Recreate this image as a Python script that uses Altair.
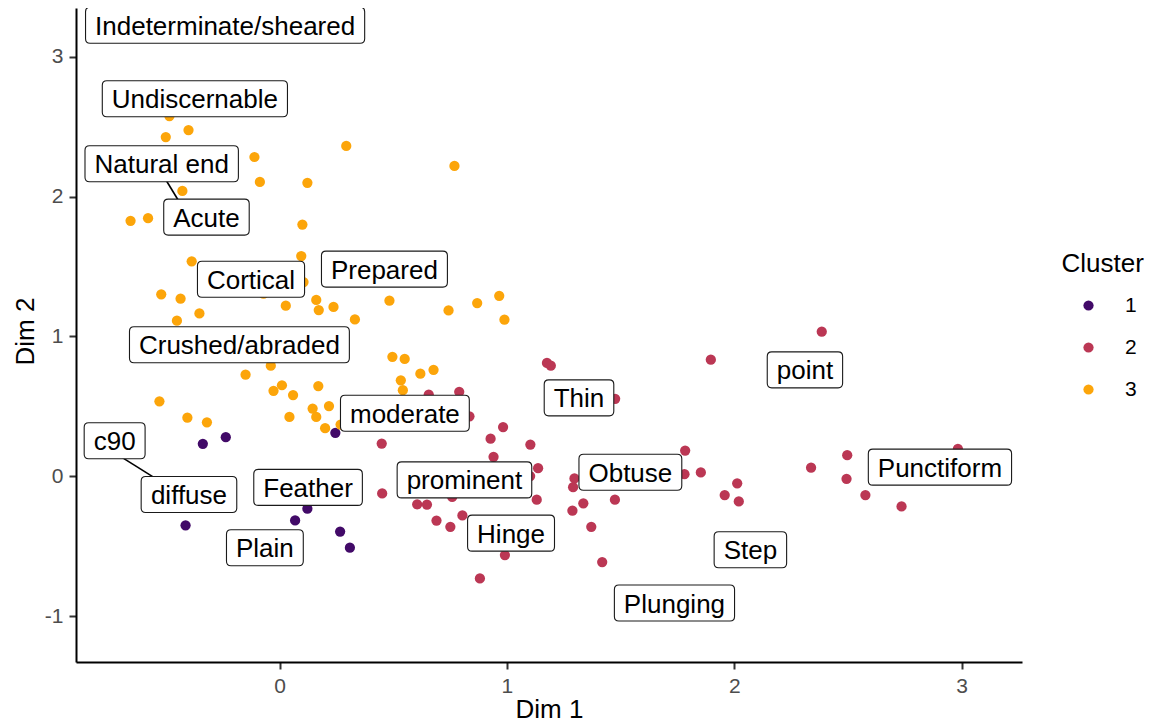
import altair as alt
import pandas as pd

# ---------------- data ----------------
c1_x = [-0.338, -0.237, 0.245, -0.414, 0.068, 0.122, 0.266, 0.309]
c1_y = [0.232, 0.279, 0.311, -0.351, -0.316, -0.232, -0.396, -0.511]

c2_x = [1.176, 1.193, 1.897, 1.476, 0.790, 0.656, 0.835, 0.983, 0.928, 1.103,
        0.449, 0.941, 1.137, 1.102, 0.451, 0.605, 0.648, 0.759, 1.131, 0.690,
        0.751, 0.804, 0.991, 0.881, 1.297, 1.291, 1.336, 1.288, 1.475, 1.371,
        1.419, 1.784, 1.781, 1.853, 2.013, 1.958, 2.020, 2.338, 2.497, 2.494,
        2.577, 2.736, 2.984, 2.385]
c2_y = [0.811, 0.791, 0.834, 0.554, 0.604, 0.584, 0.429, 0.352, 0.269, 0.227,
        0.234, 0.139, 0.058, 0.001, -0.123, -0.201, -0.203, -0.148, -0.168, -0.317,
        -0.362, -0.280, -0.564, -0.731, -0.016, -0.078, -0.194, -0.246, -0.168, -0.362,
        -0.614, 0.184, 0.015, 0.027, -0.051, -0.135, -0.180, 0.061, 0.151, -0.018,
        -0.135, -0.216, 0.196, 1.034]

c3_x = [-0.485, -0.401, -0.501, 0.293, -0.111, -0.087, 0.122, -0.428, -0.656, -0.579,
        0.100, 0.769, 0.095, 0.105, 0.027, 0.161, 0.172, 0.237, 0.331, 0.483,
        0.743, 0.869, 0.966, 0.989, -0.387, -0.521, -0.436, -0.452, -0.353, -0.071,
        -0.039, -0.150, -0.027, 0.010, 0.059, 0.170, -0.529, -0.406, -0.320, 0.043,
        0.145, 0.161, 0.217, 0.200, 0.268, 0.496, 0.550, 0.619, 0.677, 0.533, 0.542]
c3_y = [2.577, 2.477, 2.427, 2.363, 2.284, 2.106, 2.099, 2.041, 1.827, 1.846,
        1.801, 2.220, 1.575, 1.389, 1.220, 1.261, 1.189, 1.211, 1.122, 1.256,
        1.186, 1.239, 1.291, 1.120, 1.538, 1.302, 1.270, 1.113, 1.165, 1.306,
        0.791, 0.727, 0.611, 0.651, 0.581, 0.645, 0.536, 0.419, 0.386, 0.424,
        0.484, 0.424, 0.502, 0.344, 0.370, 0.854, 0.839, 0.734, 0.761, 0.686, 0.616]

label_text = ["Indeterminate/sheared", "Undiscernable", "Natural end", "Acute",
              "Cortical", "Prepared", "Crushed/abraded", "moderate", "Thin",
              "point", "Punctiform", "c90", "diffuse", "Feather", "Plain",
              "prominent", "Obtuse", "Hinge", "Step", "Plunging"]
label_x = [-0.240, -0.373, -0.519, -0.322, -0.126, 0.461, -0.177, 0.551, 1.317,
           2.311, 2.905, -0.726, -0.399, 0.125, -0.065, 0.813, 1.543, 1.018,
           2.071, 1.737]
label_y = [3.227, 2.701, 2.236, 1.854, 1.409, 1.482, 0.941, 0.451, 0.561,
           0.761, 0.065, 0.254, -0.131, -0.080, -0.512, -0.026, 0.029, -0.407,
           -0.526, -0.907]

# leader segments (label -> its point)
seg_x = [-0.537, -0.722]
seg_y = [2.218, 0.164]
seg_x2 = [-0.422, -0.520]
seg_y2 = [1.910, -0.042]

x_ticks = [0, 1, 2, 3]
y_ticks = [-1, 0, 1, 2, 3]

cluster_names = ["1", "2", "3"]
cluster_colors = ["#420A68", "#BB3754", "#FCA50A"]

# ---------------- helpers ----------------
FONT = "Liberation Sans, Arial, Helvetica, sans-serif"
LABEL_FS = 26
ARIAL_W = {" ": 278, "/": 278, "0": 556, "9": 556, "A": 667, "C": 722, "F": 611,
           "H": 722, "I": 278, "M": 833, "N": 722, "O": 778, "P": 667, "S": 667,
           "T": 611, "U": 722, "a": 556, "b": 556, "c": 500, "d": 556, "e": 556,
           "f": 278, "g": 556, "h": 556, "i": 222, "l": 222, "m": 833, "n": 556,
           "o": 556, "p": 556, "r": 333, "s": 500, "t": 278, "u": 556, "v": 500}


def text_width(s, fs):
    return sum(ARIAL_W.get(ch, 556) for ch in s) * fs / 1000.0


def box_path(text):
    w = (text_width(text, LABEL_FS) + 19.0) / 2.0
    h = 18.0
    r = 4.5
    return (f"M{-w + r},{-h} L{w - r},{-h} Q{w},{-h} {w},{-h + r} "
            f"L{w},{h - r} Q{w},{h} {w - r},{h} L{-w + r},{h} "
            f"Q{-w},{h} {-w},{h - r} L{-w},{-h + r} Q{-w},{-h} {-w + r},{-h} Z")


pts = pd.DataFrame({
    "x": c1_x + c2_x + c3_x,
    "y": c1_y + c2_y + c3_y,
    "cluster": ["1"] * len(c1_x) + ["2"] * len(c2_x) + ["3"] * len(c3_x),
})
labels = pd.DataFrame({"label": label_text, "x": label_x, "y": label_y})
labels["path"] = [box_path(t) for t in label_text]
segs = pd.DataFrame({"x": seg_x, "y": seg_y, "x2": seg_x2, "y2": seg_y2})

W, H = 946, 654
xs = alt.Scale(domain=[-0.896, 3.266], nice=False, zero=False)
ys = alt.Scale(domain=[-1.329, 3.350], nice=False, zero=False)

x_axis = alt.Axis(values=x_ticks, grid=False, domainColor="black", domainWidth=2,
                  tickColor="#333333", tickWidth=2, tickSize=7, labelFont=FONT,
                  labelFontSize=21, labelColor="#4D4D4D", labelPadding=6,
                  labelExpr="'' + datum.value",
                  titleFont=FONT, titleFontSize=26, titleColor="black",
                  titleFontWeight="normal", titleBaseline="alphabetic", titleY=55)
y_axis = alt.Axis(values=y_ticks, grid=False, domainColor="black", domainWidth=2,
                  tickColor="#333333", tickWidth=2, tickSize=7, labelFont=FONT,
                  labelFontSize=21, labelColor="#4D4D4D", labelPadding=6,
                  labelExpr="'' + datum.value",
                  titleFont=FONT, titleFontSize=26, titleColor="black",
                  titleFontWeight="normal", titleBaseline="alphabetic",
                  titleX=-43, titleY=323)

points = alt.Chart(pts).mark_circle(size=105, opacity=1).encode(
    x=alt.X("x:Q", scale=xs, axis=x_axis, title="Dim 1"),
    y=alt.Y("y:Q", scale=ys, axis=y_axis, title="Dim 2"),
    color=alt.Color("cluster:N",
                    scale=alt.Scale(domain=cluster_names, range=cluster_colors),
                    legend=alt.Legend(title="Cluster", orient="none", legendX=985.5,
                                      legendY=243, titleFont=FONT, titleFontSize=26,
                                      titleFontWeight="normal", titleColor="black",
                                      titlePadding=18, labelFont=FONT, labelFontSize=21,
                                      labelColor="black", symbolSize=105,
                                      symbolType="circle", symbolOffset=16.5,
                                      labelOffset=26, rowPadding=20,
                                      symbolStrokeWidth=0)),
)

rules = alt.Chart(segs).mark_rule(color="black", strokeWidth=1.6).encode(
    x=alt.X("x:Q", scale=xs), y=alt.Y("y:Q", scale=ys),
    x2="x2:Q", y2="y2:Q",
)

boxes = alt.Chart(labels).mark_point(filled=True, fill="white", stroke="#1a1a1a",
                                     strokeWidth=1.1, opacity=1, size=4).encode(
    x=alt.X("x:Q", scale=xs), y=alt.Y("y:Q", scale=ys),
    shape=alt.Shape("path:N", scale=None),
)

texts = alt.Chart(labels).mark_text(font=FONT, fontSize=LABEL_FS, color="black",
                                    align="center", baseline="alphabetic", dy=9.5).encode(
    x=alt.X("x:Q", scale=xs), y=alt.Y("y:Q", scale=ys), text="label:N",
)

chart = alt.layer(points, rules, boxes, texts).properties(
    width=W, height=H,
    autosize=alt.AutoSizeParams(type="none"),
    padding={"left": 68, "top": 0, "right": 122, "bottom": 60},
).configure_view(stroke=None)

chart.save("out.html", embed_options={"renderer": "svg", "actions": False})
